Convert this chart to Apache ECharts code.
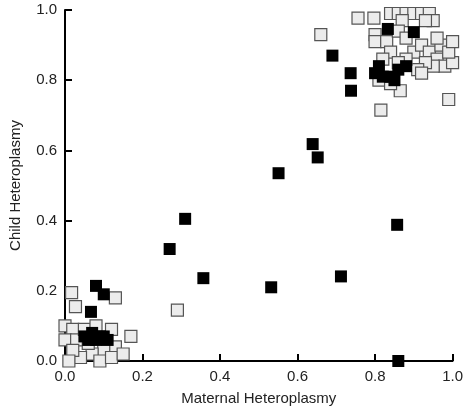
<!DOCTYPE html>
<html>
<head>
<meta charset="utf-8">
<script src="https://cdn.jsdelivr.net/npm/echarts@6/dist/echarts.min.js"></script>
<style>html,body{margin:0;padding:0;background:#fff}#c{width:466px;height:412px}</style>
</head>
<body>
<div id="c"></div>
<script>
// grey squares: [maternal, child]
var greyPoints = [
  [0.66, 0.93], [0.756, 0.977], [0.797, 0.977], [0.84, 0.99], [0.86, 0.99], [0.88, 0.99],
  [0.90, 0.99], [0.92, 0.99], [0.94, 0.99], [0.95, 0.97], [0.93, 0.97], [0.87, 0.97],
  [0.80, 0.93], [0.80, 0.91], [0.83, 0.91], [0.86, 0.94], [0.88, 0.92], [0.84, 0.88],
  [0.865, 0.77], [0.815, 0.715], [0.99, 0.745], [0.90, 0.88], [0.92, 0.90], [0.94, 0.88],
  [0.96, 0.86], [0.98, 0.84], [1.0, 0.85], [0.97, 0.90], [0.99, 0.88], [0.95, 0.84],
  [0.93, 0.85], [0.91, 0.83], [0.88, 0.86], [0.86, 0.85], [0.82, 0.86], [0.81, 0.80],
  [0.84, 0.79], [1.0, 0.91], [0.96, 0.92], [0.92, 0.82],
  [0.017, 0.195], [0.027, 0.155], [0.13, 0.18], [0.17, 0.07], [0.29, 0.145],
  [0.0, 0.10], [0.02, 0.09], [0.0, 0.06], [0.03, 0.06], [0.05, 0.09], [0.08, 0.10],
  [0.12, 0.09], [0.13, 0.04], [0.10, 0.03], [0.07, 0.02], [0.04, 0.01], [0.02, 0.03],
  [0.09, 0.00], [0.12, 0.01], [0.06, 0.05], [0.15, 0.02], [0.01, 0.0]
];
var blackPoints = [
  [0.639, 0.618], [0.652, 0.58], [0.551, 0.535], [0.31, 0.405], [0.27, 0.319],
  [0.357, 0.236], [0.532, 0.21], [0.712, 0.241], [0.857, 0.388], [0.86, 0.0],
  [0.833, 0.946], [0.90, 0.937], [0.69, 0.87], [0.737, 0.82], [0.738, 0.77],
  [0.80, 0.82], [0.82, 0.81], [0.84, 0.81], [0.86, 0.83], [0.88, 0.84], [0.81, 0.84], [0.85, 0.80],
  [0.08, 0.214], [0.10, 0.19], [0.067, 0.14],
  [0.05, 0.07], [0.07, 0.08], [0.08, 0.06], [0.09, 0.07], [0.10, 0.07], [0.11, 0.06], [0.06, 0.06]
];

var chart = echarts.init(document.getElementById('c'));
var font = 'Liberation Sans';
function axis(name, gap) {
  return {
    type: 'value', min: 0, max: 1, interval: 0.2,
    name: name, nameLocation: 'middle', nameGap: gap,
    nameTextStyle: { fontFamily: font, fontSize: 15, color: '#222' },
    axisLine: { lineStyle: { color: '#000', width: 2 } },
    axisTick: { inside: true, length: 7, lineStyle: { color: '#000', width: 2 } },
    axisLabel: { fontFamily: font, fontSize: 15, color: '#222',
      formatter: function (v) { return v.toFixed(1); } },
    splitLine: { show: false }
  };
}
chart.setOption({
  animation: false,
  grid: { left: 65, right: 11, top: 10, bottom: 51 },
  xAxis: axis('Maternal Heteroplasmy', 30),
  yAxis: axis('Child Heteroplasmy', 42),
  series: [
    { type: 'scatter', data: greyPoints, symbol: 'rect', symbolSize: 12, clip: false,
      itemStyle: { color: '#ececec', borderColor: '#555', borderWidth: 1.2, opacity: 1 } },
    { type: 'scatter', data: blackPoints, symbol: 'rect', symbolSize: 12, clip: false,
      itemStyle: { color: '#000', opacity: 1 } }
  ]
});
</script>
</body>
</html>
